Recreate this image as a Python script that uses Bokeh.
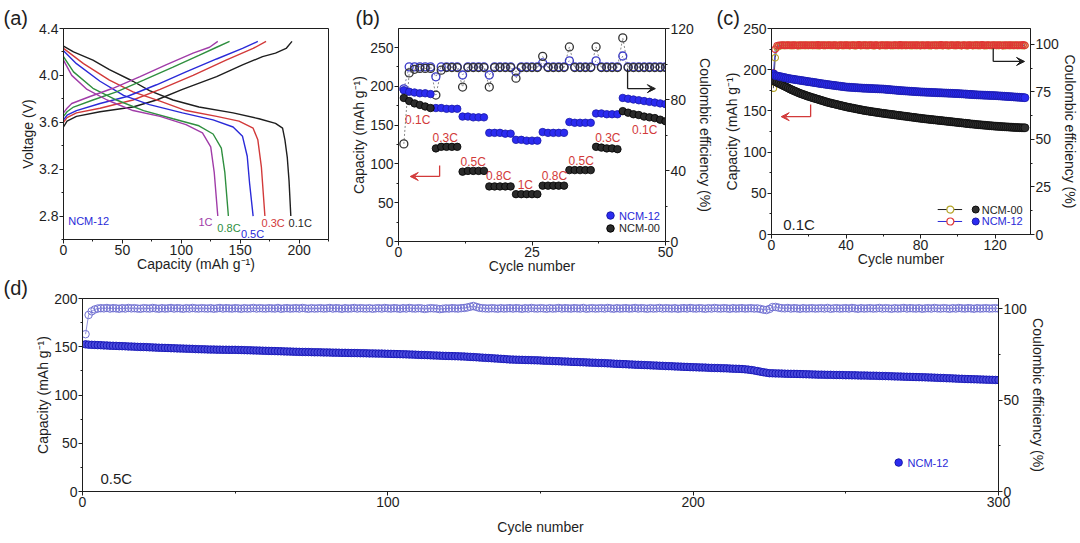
from bokeh.plotting import figure
from bokeh.layouts import column, row
from bokeh.models import Range1d, LinearAxis, FixedTicker, Label, Arrow, VeeHead, PrintfTickFormatter
from bokeh.embed import file_html
from bokeh.resources import INLINE

# ================= DATA =================
# ---- panel (a): charge / discharge curves of NCM-12 at different rates ----
rates = ["0.1C", "0.3C", "0.5C", "0.8C", "1C"]

ch_cap_01 = [0, 3, 11, 31, 59, 79, 101, 130, 152, 169, 180, 189, 194]
ch_v_01 = [3.56, 3.61, 3.65, 3.69, 3.73, 3.79, 3.88, 3.99, 4.09, 4.16, 4.19, 4.23, 4.29]
dis_cap_01 = [0, 8.5, 25, 39, 59, 73, 93, 115, 144, 166, 180, 186, 188, 190, 191.5, 193]
dis_v_01 = [4.25, 4.20, 4.13, 4.05, 3.95, 3.87, 3.79, 3.73, 3.68, 3.63, 3.59, 3.55, 3.45, 3.30, 3.10, 2.80]

ch_cap_03 = [0, 3, 11, 31, 59, 82, 110, 138, 161, 172]
ch_v_03 = [3.60, 3.64, 3.68, 3.72, 3.79, 3.88, 4.00, 4.13, 4.23, 4.29]
dis_cap_03 = [0, 17, 39, 59, 82, 104, 130, 149, 161, 165, 168, 171]
dis_v_03 = [4.23, 4.10, 3.96, 3.86, 3.78, 3.70, 3.65, 3.61, 3.55, 3.45, 3.22, 2.80]

ch_cap_05 = [0, 3, 11, 31, 54, 79, 104, 130, 152, 165]
ch_v_05 = [3.62, 3.66, 3.70, 3.76, 3.82, 3.92, 4.03, 4.14, 4.23, 4.29]
dis_cap_05 = [0, 11, 31, 51, 73, 101, 127, 144, 152, 156, 158, 161]
dis_v_05 = [4.21, 4.10, 3.95, 3.83, 3.75, 3.68, 3.62, 3.56, 3.48, 3.31, 3.08, 2.80]

ch_cap_08 = [0, 3, 8.5, 25, 45, 68, 93, 115, 130, 141]
ch_v_08 = [3.65, 3.69, 3.73, 3.79, 3.86, 3.96, 4.07, 4.17, 4.24, 4.29]
dis_cap_08 = [0, 8.5, 25, 45, 68, 93, 115, 127, 134, 137, 140]
dis_v_08 = [4.16, 4.03, 3.89, 3.79, 3.70, 3.63, 3.57, 3.50, 3.38, 3.17, 2.80]

ch_cap_1 = [0, 3, 7, 22.5, 42, 65, 87, 110, 124, 131]
ch_v_1 = [3.68, 3.72, 3.76, 3.82, 3.89, 3.99, 4.09, 4.19, 4.24, 4.29]
dis_cap_1 = [0, 7, 20, 37, 59, 82, 104, 118, 125, 128, 131]
dis_v_1 = [4.13, 4.00, 3.88, 3.79, 3.70, 3.65, 3.58, 3.51, 3.39, 3.17, 2.80]

# ---- panel (b): rate capability ----
cycles_b = list(range(1, 51))
cap12_b = [195, 193, 192, 191, 191, 190,
           172, 172, 171, 171, 171,
           161, 161, 160, 160, 160,
           140, 140, 140, 139, 139,
           131, 131, 130, 130, 130,
           141, 140, 140, 140, 140,
           154, 153, 153, 153, 153,
           165, 165, 164, 164, 164,
           185, 184, 183, 182, 181, 180, 179, 178, 177]
cap00_b = [185, 181, 178, 176, 174, 172,
           120, 122, 122, 122, 122,
           90, 91, 91, 91, 91,
           71, 71, 71, 71, 71,
           61, 61, 61, 61, 61,
           72, 72, 72, 72, 72,
           92, 92, 92, 92, 92,
           122, 121, 120, 120, 119,
           168, 166, 164, 163, 161, 160, 159, 157, 155]
ce12_b = [86.0, 98.4, 98.4, 98.4, 98.4, 98.4,
          92.8, 98.4, 98.4, 98.4, 98.4,
          93.8, 98.4, 98.4, 98.4, 98.4,
          93.8, 98.4, 98.4, 98.4, 98.4,
          95.6, 98.4, 98.4, 98.4, 98.4,
          100.6, 98.4, 98.4, 98.4, 98.4,
          101.8, 98.4, 98.4, 98.4, 98.4,
          101.8, 98.4, 98.4, 98.4, 98.4,
          104.5, 98.4, 98.4, 98.4, 98.4, 98.4, 98.4, 98.4, 98.4]
ce00_b = [55.0, 95.0, 97.0, 97.5, 97.5, 97.5,
          82.5, 96.5, 98.0, 98.0, 98.0,
          87.0, 98.0, 98.0, 98.0, 98.0,
          87.0, 98.0, 98.0, 98.0, 98.0,
          92.0, 98.0, 98.0, 98.0, 98.0,
          104.3, 98.0, 98.0, 98.0, 98.0,
          109.6, 98.0, 98.0, 98.0, 98.0,
          109.6, 98.0, 98.0, 98.0, 98.0,
          114.7, 98.0, 98.0, 98.0, 98.0, 98.0, 98.0, 98.0, 98.0]
rate_seq_b = ["0.1C", "0.3C", "0.5C", "0.8C", "1C", "0.8C", "0.5C", "0.3C", "0.1C"]

# ---- panel (c): cycling at 0.1C ----
cycles_c = list(range(1, 137))
cap00_c = [187.0, 185.8, 184.6, 183.4, 182.2, 181.1, 180.0, 178.9, 177.7, 176.5,
           175.5, 174.5, 173.5, 172.5, 171.5, 170.7, 169.9, 169.1, 168.3, 167.5,
           166.8, 166.1, 165.4, 164.7, 164.0, 163.3, 162.6, 161.9, 161.2, 160.5,
           159.9, 159.4, 158.8, 158.3, 157.7, 157.2, 156.6, 156.1, 155.5, 155.0,
           154.5, 154.1, 153.6, 153.2, 152.7, 152.3, 151.8, 151.4, 150.9, 150.5,
           150.1, 149.8, 149.4, 149.1, 148.7, 148.4, 148.0, 147.7, 147.3, 147.0,
           146.7, 146.4, 146.1, 145.8, 145.5, 145.2, 144.9, 144.6, 144.3, 144.0,
           143.7, 143.4, 143.1, 142.8, 142.5, 142.2, 141.9, 141.6, 141.3, 141.0,
           140.7, 140.5, 140.2, 140.0, 139.7, 139.5, 139.2, 139.0, 138.7, 138.5,
           138.2, 138.0, 137.7, 137.5, 137.2, 137.0, 136.7, 136.5, 136.2, 136.0,
           135.7, 135.5, 135.2, 135.0, 134.7, 134.5, 134.2, 134.0, 133.7, 133.5,
           133.3, 133.1, 132.9, 132.7, 132.5, 132.3, 132.1, 131.9, 131.7, 131.5,
           131.4, 131.2, 131.1, 130.9, 130.8, 130.6, 130.5, 130.3, 130.2, 130.0,
           129.9, 129.8, 129.7, 129.6, 129.5, 129.5]
cap12_c = [195.0, 193.0, 192.4, 191.9, 191.4, 190.9, 190.4, 189.9, 189.4, 189.0,
           188.6, 188.3, 187.9, 187.6, 187.2, 186.9, 186.5, 186.2, 185.8, 185.5,
           185.1, 184.8, 184.4, 184.1, 183.7, 183.4, 183.0, 182.7, 182.3, 182.0,
           181.7, 181.4, 181.1, 180.8, 180.5, 180.2, 179.9, 179.6, 179.3, 179.0,
           178.8, 178.7, 178.5, 178.4, 178.2, 178.1, 177.9, 177.8, 177.6, 177.5,
           177.4, 177.3, 177.2, 177.1, 177.0, 176.9, 176.8, 176.7, 176.6, 176.5,
           176.3, 176.1, 175.9, 175.7, 175.5, 175.3, 175.1, 174.9, 174.7, 174.5,
           174.4, 174.2, 174.1, 173.9, 173.8, 173.6, 173.5, 173.3, 173.2, 173.0,
           172.9, 172.8, 172.7, 172.6, 172.5, 172.4, 172.3, 172.2, 172.1, 172.0,
           171.9, 171.8, 171.7, 171.6, 171.5, 171.4, 171.3, 171.2, 171.1, 171.0,
           170.9, 170.7, 170.6, 170.4, 170.3, 170.1, 170.0, 169.8, 169.7, 169.5,
           169.4, 169.3, 169.2, 169.1, 169.0, 168.9, 168.8, 168.7, 168.6, 168.5,
           168.4, 168.2, 168.1, 167.9, 167.8, 167.6, 167.5, 167.3, 167.2, 167.0,
           166.8, 166.7, 166.5, 166.4, 166.2, 166.0]
ce12_c = [85.0, 97.5, 99.3, 99.6, 99.5, 99.7, 99.6, 99.5, 99.7, 99.6,
          99.5, 99.7, 99.6, 99.4, 99.7, 99.6, 99.5, 99.7, 99.6, 99.5,
          99.6, 99.7, 99.5, 99.6, 99.8, 99.5, 99.6, 99.7, 99.5, 99.6,
          99.7, 99.6, 99.5, 99.7, 99.6, 99.4, 99.7, 99.6, 99.5, 99.7,
          99.6, 99.5, 99.6, 99.7, 99.5, 99.6, 99.8, 99.5, 99.6, 99.7,
          99.5, 99.6, 99.7, 99.6, 99.5, 99.7, 99.6, 99.4, 99.7, 99.6,
          99.5, 99.7, 99.6, 99.5, 99.6, 99.7, 99.5, 99.6, 99.8, 99.5,
          99.6, 99.7, 99.5, 99.6, 99.7, 99.6, 99.5, 99.7, 99.6, 99.4,
          99.7, 99.6, 99.5, 99.7, 99.6, 99.5, 99.6, 99.7, 99.5, 99.6,
          99.8, 99.5, 99.6, 99.7, 99.5, 99.6, 99.7, 99.6, 99.5, 99.7,
          99.6, 99.4, 99.7, 99.6, 99.5, 99.7, 99.6, 99.5, 99.6, 99.7,
          99.5, 99.6, 99.8, 99.5, 99.6, 99.7, 99.5, 99.6, 99.7, 99.6,
          99.5, 99.7, 99.6, 99.4, 99.7, 99.6, 99.5, 99.7, 99.6, 99.5,
          99.6, 99.7, 99.5, 99.6, 99.8, 99.5]
ce00_c = [77.0, 93.0, 98.5, 99.2, 99.4, 99.5, 99.4, 99.6, 99.5, 99.4,
          99.5, 99.4, 99.6, 99.5, 99.3, 99.5, 99.6, 99.4, 99.5, 99.5,
          99.5, 99.4, 99.6, 99.5, 99.3, 99.5, 99.6, 99.4, 99.5, 99.5,
          99.5, 99.4, 99.6, 99.5, 99.3, 99.5, 99.6, 99.4, 99.5, 99.5,
          99.5, 99.4, 99.6, 99.5, 99.3, 99.5, 99.6, 99.4, 99.5, 99.5,
          99.5, 99.4, 99.6, 99.5, 99.3, 99.5, 99.6, 99.4, 99.5, 99.5,
          99.5, 99.4, 99.6, 99.5, 99.3, 99.5, 99.6, 99.4, 99.5, 99.5,
          99.5, 99.4, 99.6, 99.5, 99.3, 99.5, 99.6, 99.4, 99.5, 99.5,
          99.5, 99.4, 99.6, 99.5, 99.3, 99.5, 99.6, 99.4, 99.5, 99.5,
          99.5, 99.4, 99.6, 99.5, 99.3, 99.5, 99.6, 99.4, 99.5, 99.5,
          99.5, 99.4, 99.6, 99.5, 99.3, 99.5, 99.6, 99.4, 99.5, 99.5,
          99.5, 99.4, 99.6, 99.5, 99.3, 99.5, 99.6, 99.4, 99.5, 99.5,
          99.5, 99.4, 99.6, 99.5, 99.3, 99.5, 99.6, 99.4, 99.5, 99.5,
          99.5, 99.4, 99.6, 99.5, 99.3, 99.5]

# ---- panel (d): long cycling of NCM-12 at 0.5C ----
cycles_d = list(range(1, 301))
cap12_d = [152.5, 152.2, 152.0, 151.9, 151.7, 151.6, 151.4, 151.3, 151.1, 151.0,
           150.9, 150.7, 150.6, 150.5, 150.3, 150.2, 150.1, 149.9, 149.8, 149.7,
           149.6, 149.4, 149.3, 149.1, 149.0, 148.9, 148.8, 148.7, 148.5, 148.4,
           148.3, 148.2, 148.1, 148.0, 147.9, 147.8, 147.6, 147.5, 147.4, 147.3,
           147.2, 147.1, 147.1, 147.0, 147.0, 146.9, 146.9, 146.8, 146.8, 146.8,
           146.7, 146.6, 146.5, 146.4, 146.3, 146.2, 146.1, 146.0, 145.9, 145.8,
           145.7, 145.6, 145.5, 145.4, 145.3, 145.2, 145.1, 145.0, 144.9, 144.8,
           144.7, 144.6, 144.6, 144.5, 144.4, 144.3, 144.3, 144.2, 144.1, 144.1,
           144.0, 143.9, 143.9, 143.8, 143.7, 143.7, 143.6, 143.5, 143.5, 143.4,
           143.3, 143.3, 143.2, 143.1, 143.1, 143.0, 142.9, 142.9, 142.8, 142.7,
           142.6, 142.5, 142.4, 142.3, 142.2, 142.1, 142.0, 141.9, 141.8, 141.6,
           141.5, 141.4, 141.3, 141.1, 141.0, 140.9, 140.8, 140.6, 140.5, 140.4,
           140.3, 140.2, 140.1, 140.0, 139.9, 139.7, 139.5, 139.3, 139.1, 138.9,
           138.7, 138.5, 138.3, 138.1, 137.9, 137.7, 137.5, 137.3, 137.0, 136.8,
           136.7, 136.6, 136.5, 136.4, 136.3, 136.2, 136.1, 136.0, 135.9, 135.8,
           135.6, 135.5, 135.4, 135.2, 135.1, 135.0, 134.8, 134.7, 134.6, 134.4,
           134.3, 134.2, 134.0, 133.9, 133.8, 133.6, 133.5, 133.4, 133.2, 133.1,
           133.0, 132.8, 132.7, 132.5, 132.3, 132.2, 132.0, 131.9, 131.7, 131.6,
           131.4, 131.3, 131.2, 131.0, 130.9, 130.7, 130.6, 130.5, 130.3, 130.2,
           130.0, 129.9, 129.8, 129.6, 129.5, 129.4, 129.2, 129.1, 128.9, 128.8,
           128.7, 128.6, 128.5, 128.4, 128.2, 128.1, 128.0, 127.9, 127.8, 127.7,
           127.6, 127.4, 127.3, 127.2, 127.1, 126.9, 126.6, 126.3, 125.9, 125.4,
           124.8, 124.2, 123.6, 123.1, 122.6, 122.5, 122.4, 122.3, 122.2, 122.1,
           122.0, 121.9, 121.9, 121.8, 121.7, 121.6, 121.5, 121.4, 121.3, 121.2,
           121.1, 121.1, 121.0, 120.9, 120.9, 120.8, 120.7, 120.7, 120.6, 120.5,
           120.5, 120.4, 120.4, 120.3, 120.2, 120.2, 120.1, 120.0, 120.0, 119.9,
           119.8, 119.7, 119.6, 119.5, 119.4, 119.3, 119.2, 119.1, 119.0, 118.9,
           118.8, 118.7, 118.6, 118.5, 118.4, 118.3, 118.2, 118.1, 118.0, 117.8,
           117.7, 117.6, 117.4, 117.3, 117.2, 117.0, 116.9, 116.8, 116.6, 116.5,
           116.4, 116.3, 116.2, 116.1, 116.0, 115.9, 115.8, 115.7, 115.6, 115.5]
ce12_d = [86.0, 96.5, 98.5, 99.5, 100.0, 100.2, 100.1, 100.3, 100.0, 100.2, 100.1, 99.9, 100.2, 100.0, 100.3, 100.1, 100.2, 100.0, 99.9, 100.2,
          100.1, 100.0, 100.3, 100.1, 99.9, 100.2, 100.0, 100.1, 100.3, 100.0, 100.2, 100.1, 99.9, 100.2, 100.0, 100.3, 100.1, 100.0, 100.2, 100.1,
          100.0, 100.2, 99.9, 100.1, 100.3, 100.0, 100.2, 100.1, 100.0, 100.2, 100.1, 99.9, 100.2, 100.0, 100.1, 100.3, 100.0, 100.2, 100.1, 100.0,
          100.2, 100.1, 100.0, 100.3, 99.9, 100.1, 100.2, 100.0, 100.1, 100.2, 100.0, 100.3, 100.1, 99.9, 100.2, 100.0, 100.1, 100.2, 100.0, 100.1,
          100.3, 100.0, 100.2, 100.1, 99.9, 100.2, 100.0, 100.1, 100.3, 100.0, 100.2, 100.1, 100.0, 100.2, 99.9, 100.1, 100.2, 100.0, 100.3, 100.1,
          100.0, 100.2, 100.1, 99.9, 100.2, 100.0, 100.3, 100.1, 100.0, 100.2, 100.1, 99.8, 100.0, 100.2, 100.1, 100.0, 99.7, 99.9, 100.1, 100.0,
          100.2, 100.1, 100.0, 100.2, 100.3, 100.6, 101.0, 101.4, 100.9, 100.4, 100.2, 100.1, 100.0, 100.2, 100.1, 99.9, 100.2, 100.0, 100.1, 100.2,
          100.0, 100.2, 100.1, 99.9, 100.2, 100.0, 100.3, 100.1, 100.0, 100.2, 100.1, 99.9, 100.2, 100.0, 100.1, 100.3, 100.0, 100.2, 100.1, 100.0,
          100.2, 100.1, 100.0, 100.3, 99.9, 100.1, 100.2, 100.0, 100.1, 100.2, 100.0, 100.3, 100.1, 99.9, 100.2, 100.0, 100.1, 100.2, 100.0, 100.1,
          100.3, 100.0, 100.2, 100.1, 99.9, 100.2, 100.0, 100.1, 100.3, 100.0, 100.2, 100.1, 100.0, 100.2, 99.9, 100.1, 100.2, 100.0, 100.3, 100.1,
          100.0, 100.2, 100.1, 99.9, 100.2, 100.0, 100.3, 100.1, 100.0, 100.2, 100.1, 99.9, 100.2, 100.0, 100.1, 100.2, 100.0, 100.1, 100.2, 100.0,
          100.1, 99.8, 99.4, 99.2, 99.8, 100.8, 100.9, 100.5, 100.2, 100.1, 100.3, 100.0, 100.2, 100.1, 99.9, 100.2, 100.0, 100.1, 100.2, 100.0,
          100.1, 100.2, 100.0, 100.3, 99.9, 100.1, 100.2, 100.0, 100.1, 100.2, 100.0, 100.3, 100.1, 99.9, 100.2, 100.0, 100.1, 100.2, 100.0, 100.1,
          100.3, 100.0, 100.2, 100.1, 99.9, 100.2, 100.0, 100.1, 100.3, 100.0, 100.2, 100.1, 100.0, 100.2, 99.9, 100.1, 100.2, 100.0, 100.3, 100.1,
          100.0, 100.2, 100.1, 99.9, 100.2, 100.0, 100.3, 100.1, 100.0, 100.2, 100.1, 99.9, 100.2, 100.0, 100.1, 100.2, 100.0, 100.1, 100.2, 100.0]

# tick values
ticks_a_x = [0, 50, 100, 150, 200]
ticks_a_y = [2.8, 3.2, 3.6, 4.0, 4.4]
ticks_b_x = [0, 25, 50]
ticks_b_y = [0, 50, 100, 150, 200, 250]
ticks_b_ce = [0, 40, 80, 120]
ticks_c_x = [0, 40, 80, 120]
ticks_c_y = [0, 50, 100, 150, 200, 250]
ticks_c_ce = [0, 25, 50, 75, 100]
ticks_d_x = [0, 100, 200, 300]
ticks_d_y = [0, 50, 100, 150, 200]
ticks_d_ce = [0, 50, 100]

# ================= STYLE / BUILD =================
FONT = "Liberation Sans"
INK = "#1e1e1e"
RED = "#d23a3a"
BLUE = "#2a2ad8"
GREEN = "#2f8f3f"
PURPLE = "#a03ca8"
CAP = "Capacity (mAh g\u207b\u00b9)"
CE_LABEL = "Coulombic efficiency (%)"


def make_fig(fw, fh, bl, br, bt, bb, xr, yr, letter, letter_offset):
    p = figure(frame_width=fw, frame_height=fh, min_border_left=bl, min_border_right=br,
               min_border_top=bt, min_border_bottom=bb, x_range=Range1d(*xr), y_range=Range1d(*yr),
               output_backend="svg", toolbar_location=None, title=letter)
    p.title.align = "left"
    p.title.offset = letter_offset
    p.title.standoff = 0
    p.title.vertical_align = "bottom"
    p.title.text_font = FONT
    p.title.text_font_size = "20px"
    p.title.text_font_style = "normal"
    p.title.text_color = INK
    p.xgrid.visible = False
    p.ygrid.visible = False
    p.outline_line_color = INK
    p.outline_line_alpha = 1.0
    p.outline_line_width = 1
    p.background_fill_color = "white"
    p.border_fill_color = "white"
    return p


def style_axis(ax, label, ticks, minor, fmt=None, label_standoff=0):
    ax.axis_label = label
    ax.ticker = FixedTicker(ticks=ticks, minor_ticks=minor)
    if fmt:
        ax.formatter = PrintfTickFormatter(format=fmt)
    ax.axis_line_color = INK
    ax.major_tick_line_color = INK
    ax.minor_tick_line_color = INK
    ax.major_tick_out = 4
    ax.major_tick_in = 0
    ax.minor_tick_out = 2
    ax.minor_tick_in = 0
    ax.major_label_text_font = FONT
    ax.major_label_text_font_size = "14px"
    ax.major_label_text_color = INK
    ax.axis_label_text_font = FONT
    ax.axis_label_text_font_size = "14px"
    ax.axis_label_text_font_style = "normal"
    ax.axis_label_text_color = INK
    ax.major_label_standoff = 1
    ax.axis_label_standoff = label_standoff


def add_right(p, name, rng, ticks, minor):
    p.extra_y_ranges = {name: Range1d(*rng)}
    ax = LinearAxis(y_range_name=name)
    style_axis(ax, CE_LABEL, ticks, minor)
    p.add_layout(ax, "right")


def label(p, x, y, s, color=INK, size="12px", align="left", baseline="middle"):
    p.add_layout(Label(x=x, y=y, text=s, text_color=color, text_font=FONT, text_font_size=size,
                       text_align=align, text_baseline=baseline))


def elbow_arrow(p, x0, y0, y1, x1, color):
    p.add_layout(Arrow(end=None, x_start=x0, y_start=y0, x_end=x0, y_end=y1,
                       line_color=color, line_width=1.3))
    p.add_layout(Arrow(end=VeeHead(size=8, line_color=color, fill_color=color, line_width=1),
                       x_start=x0, y_start=y1, x_end=x1, y_end=y1, line_color=color, line_width=1.3))


# ---------- (a) ----------
pa = make_fig(265, 211, 63, 12, 28, 35, (0, 225), (2.6, 4.4), "(a)", -60)
style_axis(pa.xaxis[0], CAP, ticks_a_x, [25, 75, 125, 175, 225], label_standoff=-2)
style_axis(pa.yaxis[0], "Voltage (V)", ticks_a_y, [2.6, 3.0, 3.4, 3.8, 4.2], "%.1f")
curves = [(ch_cap_01, ch_v_01, dis_cap_01, dis_v_01, INK),
          (ch_cap_03, ch_v_03, dis_cap_03, dis_v_03, RED),
          (ch_cap_05, ch_v_05, dis_cap_05, dis_v_05, BLUE),
          (ch_cap_08, ch_v_08, dis_cap_08, dis_v_08, GREEN),
          (ch_cap_1, ch_v_1, dis_cap_1, dis_v_1, PURPLE)]
for cc, cv, dc, dv, col in curves:
    pa.line(cc, cv, line_color=col, line_width=1.4)
    pa.line(dc, dv, line_color=col, line_width=1.4)
label(pa, 4, 2.755, "NCM-12", BLUE, "11px")
rate_pos_a = [(201, 2.745, INK), (178, 2.74, RED), (160.5, 2.65, BLUE), (140.5, 2.70, GREEN), (120.5, 2.746, PURPLE)]
for r, (x, y, col) in zip(rates, rate_pos_a):
    label(pa, x, y, r, col, "11px", "center")

# ---------- (b) ----------
pb = make_fig(267, 213, 58, 47, 25, 36, (0, 50), (0, 274.5), "(b)", -43)
style_axis(pb.xaxis[0], "Cycle number", ticks_b_x, [12.5, 37.5], label_standoff=-2)
style_axis(pb.yaxis[0], CAP, ticks_b_y, [25, 75, 125, 175, 225])
add_right(pb, "ce", (0, 120), ticks_b_ce, [20, 60, 100])
pb.line(cycles_b, ce12_b, y_range_name="ce", line_color="#8888aa", line_dash="2 2", line_width=1)
pb.line(cycles_b, ce00_b, y_range_name="ce", line_color="#888888", line_dash="2 2", line_width=1)
pb.scatter(cycles_b, ce12_b, y_range_name="ce", marker="circle", size=8, fill_color=None,
           line_color="#3a3ac8", line_width=1.3)
pb.scatter(cycles_b, ce00_b, y_range_name="ce", marker="circle", size=8, fill_color=None,
           line_color="#333333", line_width=1.3)
pb.scatter(cycles_b, cap12_b, marker="circle", size=7.5, fill_color="#2b2bf0", line_color="#1a1aa8", line_width=0.8)
pb.scatter(cycles_b, cap00_b, marker="circle", size=7.5, fill_color="#2a2a2a", line_color="#000000", line_width=0.8)
rate_pos_b = [(3.6, 157), (8.75, 133), (14.0, 103), (18.75, 84), (23.75, 73),
              (29.2, 84), (34.2, 104), (39.2, 133), (46.1, 144)]
for r, (x, y) in zip(rate_seq_b, rate_pos_b):
    label(pb, x, y, r, RED, "12px", "center")
elbow_arrow(pb, 7.7, 98, 83.8, 2.2, RED)
elbow_arrow(pb, 42.9, 223, 197, 48.1, INK)
pb.scatter([39.7], [33.5], marker="circle", size=7.5, fill_color="#2b2bf0", line_color="#1a1aa8")
pb.scatter([39.7], [16.8], marker="circle", size=7.5, fill_color="#2a2a2a", line_color="#000000")
label(pb, 41.3, 33.5, "NCM-12", BLUE, "11px")
label(pb, 41.3, 16.8, "NCM-00", INK, "11px")

# ---------- (c) ----------
pc = make_fig(259, 206, 56, 49, 27, 41, (0, 139), (0, 250), "(c)", -55)
style_axis(pc.xaxis[0], "Cycle number", ticks_c_x, [20, 60, 100], label_standoff=-2)
style_axis(pc.yaxis[0], CAP, ticks_c_y, [25, 75, 125, 175, 225])
add_right(pc, "ce", (0, 108.4), ticks_c_ce, [12.5, 37.5, 62.5, 87.5])
pc.line(cycles_c, ce00_c, y_range_name="ce", line_color=INK, line_width=0.8)
pc.line(cycles_c, ce12_c, y_range_name="ce", line_color=BLUE, line_width=0.8)
pc.scatter(cycles_c, ce00_c, y_range_name="ce", marker="circle", size=6.5, fill_color=None,
           line_color="#b5a52a", line_width=1.1)
pc.scatter(cycles_c, ce12_c, y_range_name="ce", marker="circle", size=6.5, fill_color=None,
           line_color="#e03535", line_width=1.1)
pc.scatter(cycles_c, cap00_c, marker="circle", size=8, fill_color="#303030", line_color="#0a0a0a", line_width=0.8)
pc.scatter(cycles_c, cap12_c, marker="circle", size=8, fill_color="#2b2bf0", line_color="#1a1aa8", line_width=0.8)
elbow_arrow(pc, 21, 157.8, 143, 5.2, RED)
elbow_arrow(pc, 119, 225.7, 210, 135.8, INK)
label(pc, 6.3, 12, "0.1C", INK, "15px")
pc.line([89.2, 102.3], [30.3, 30.3], line_color=INK, line_width=1)
pc.line([89.2, 102.3], [15.8, 15.8], line_color=BLUE, line_width=1)
pc.scatter([96], [30.3], marker="circle", size=7, fill_color="white", line_color="#b5a52a", line_width=1.2)
pc.scatter([96], [15.8], marker="circle", size=7, fill_color="white", line_color="#e03535", line_width=1.2)
pc.scatter([109.6], [30.3], marker="circle", size=7, fill_color="#303030", line_color="#0a0a0a")
pc.scatter([109.6], [15.8], marker="circle", size=7, fill_color="#2b2bf0", line_color="#1a1aa8")
label(pc, 112.8, 30.3, "NCM-00", INK, "11px")
label(pc, 112.8, 15.8, "NCM-12", BLUE, "11px")

# ---------- (d) ----------
pd = make_fig(916, 193, 82, 78, 24, 50, (0, 300), (0, 200), "(d)", -79)
style_axis(pd.xaxis[0], "Cycle number", ticks_d_x, [50, 150, 250], label_standoff=9)
style_axis(pd.yaxis[0], CAP, ticks_d_y, [25, 75, 125, 175])
add_right(pd, "ce", (0, 105.5), ticks_d_ce, [25, 75])
pd.line(cycles_d, ce12_d, y_range_name="ce", line_color="#7a7ad6", line_width=0.8)
pd.scatter(cycles_d, ce12_d, y_range_name="ce", marker="circle", size=7.5, fill_color=None,
           line_color="#7272d2", line_width=1)
pd.scatter(cycles_d, cap12_d, marker="circle", size=7.5, fill_color="#4a4adc", line_color="#1818b8", line_width=1)
pd.scatter([267.3], [30], marker="circle", size=7.5, fill_color="#2b2bf0", line_color="#1a1aa8")
label(pd, 270.2, 30, "NCM-12", BLUE, "11px")
label(pd, 5.9, 13.5, "0.5C", INK, "15px")

layout = column(row(pa, pb, pc), pd)
open("out.html", "w").write(file_html(layout, INLINE))
